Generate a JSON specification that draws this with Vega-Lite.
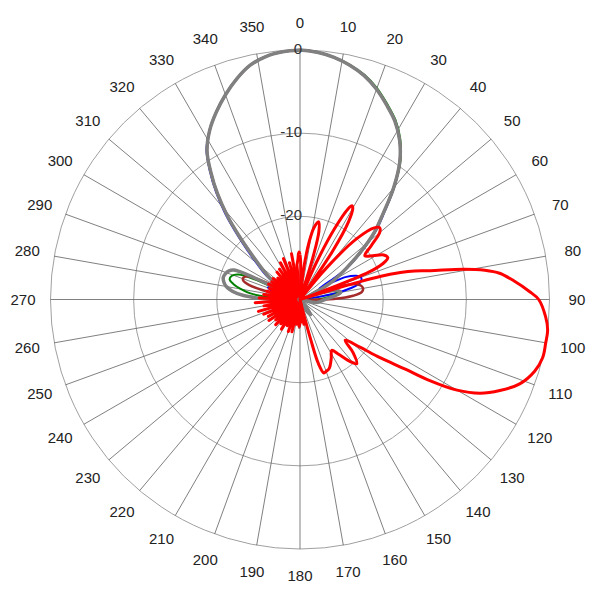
{
"$schema": "https://vega.github.io/schema/vega-lite/v6.json",
"width": 600, "height": 600, "padding": 0, "autosize": {"type": "none"},
"config": {"view": {"stroke": null}},
"datasets": {
"rings": [{"lvl": 10}, {"lvl": 20}, {"lvl": 30}],
"ringlabels": [{"lvl": 30, "t": "0"}, {"lvl": 20, "t": "-10"}, {"lvl": 10, "t": "-20"}],
"spokes": [{"a":0},{"a":10},{"a":20},{"a":30},{"a":40},{"a":50},{"a":60},{"a":70},{"a":80},{"a":90},{"a":100},{"a":110},{"a":120},{"a":130},{"a":140},{"a":150},{"a":160},{"a":170},{"a":180},{"a":190},{"a":200},{"a":210},{"a":220},{"a":230},{"a":240},{"a":250},{"a":260},{"a":270},{"a":280},{"a":290},{"a":300},{"a":310},{"a":320},{"a":330},{"a":340},{"a":350}],
"traces": [
{"s":"blue","a":0,"d":0},{"s":"blue","a":4,"d":-0.2},{"s":"blue","a":8,"d":-0.6},{"s":"blue","a":12,"d":-1.2},{"s":"blue","a":16,"d":-2},{"s":"blue","a":20,"d":-3.1},{"s":"blue","a":24,"d":-4.4},{"s":"blue","a":28,"d":-5.7},{"s":"blue","a":32,"d":-7.4},{"s":"blue","a":36,"d":-9.6},{"s":"blue","a":40,"d":-12.4},{"s":"blue","a":44,"d":-15.4},{"s":"blue","a":48,"d":-17.8},{"s":"blue","a":52,"d":-20.6},{"s":"blue","a":56,"d":-23.1},{"s":"blue","a":58,"d":-25.3},{"s":"blue","a":60,"d":-27.3},{"s":"blue","a":62,"d":-25.5},{"s":"blue","a":64,"d":-23.8},{"s":"blue","a":67,"d":-22.7},{"s":"blue","a":70,"d":-22.2},{"s":"blue","a":73,"d":-22.3},{"s":"blue","a":76,"d":-23},{"s":"blue","a":79,"d":-24.8},{"s":"blue","a":82,"d":-27.5},{"s":"blue","a":85,"d":-30},{"s":"blue","a":282,"d":-30},{"s":"blue","a":285,"d":-28},{"s":"blue","a":288,"d":-26.3},{"s":"blue","a":291,"d":-25.9},{"s":"blue","a":294,"d":-26.5},{"s":"blue","a":296,"d":-28.5},{"s":"blue","a":298,"d":-29.5},{"s":"blue","a":300,"d":-27.3},{"s":"blue","a":303,"d":-26.2},{"s":"blue","a":306,"d":-24.8},{"s":"blue","a":310,"d":-23.2},{"s":"blue","a":313,"d":-21.4},{"s":"blue","a":316,"d":-19.1},{"s":"blue","a":319,"d":-16.3},{"s":"blue","a":322,"d":-13.6},{"s":"blue","a":325,"d":-11.1},{"s":"blue","a":328,"d":-8.8},{"s":"blue","a":332,"d":-6.9},{"s":"blue","a":336,"d":-5.3},{"s":"blue","a":340,"d":-3.8},{"s":"blue","a":344,"d":-2.4},{"s":"blue","a":348,"d":-1.2},{"s":"blue","a":352,"d":-0.5},{"s":"blue","a":356,"d":-0.15},{"s":"blue","a":360,"d":0},
{"s":"green","a":0,"d":0},{"s":"green","a":4,"d":-0.17},{"s":"green","a":8,"d":-0.58},{"s":"green","a":12,"d":-1.15},{"s":"green","a":16,"d":-1.9},{"s":"green","a":20,"d":-2.95},{"s":"green","a":24,"d":-4.25},{"s":"green","a":28,"d":-5.55},{"s":"green","a":32,"d":-7.25},{"s":"green","a":36,"d":-9.45},{"s":"green","a":40,"d":-12.4},{"s":"green","a":44,"d":-15.5},{"s":"green","a":48,"d":-17.95},{"s":"green","a":52,"d":-20.8},{"s":"green","a":56,"d":-23.3},{"s":"green","a":60,"d":-25.2},{"s":"green","a":64,"d":-27.3},{"s":"green","a":67,"d":-28.6},{"s":"green","a":70,"d":-28.8},{"s":"green","a":73,"d":-27},{"s":"green","a":76,"d":-25.8},{"s":"green","a":80,"d":-25.4},{"s":"green","a":85,"d":-26.5},{"s":"green","a":90,"d":-28},{"s":"green","a":95,"d":-30},{"s":"green","a":268,"d":-30},{"s":"green","a":272,"d":-29},{"s":"green","a":274,"d":-26.5},{"s":"green","a":277,"d":-24},{"s":"green","a":280,"d":-22.8},{"s":"green","a":283,"d":-21.8},{"s":"green","a":286,"d":-21.2},{"s":"green","a":289,"d":-21.3},{"s":"green","a":292,"d":-22},{"s":"green","a":294,"d":-24},{"s":"green","a":296,"d":-29},{"s":"green","a":300,"d":-27.5},{"s":"green","a":303,"d":-26.5},{"s":"green","a":306,"d":-25.3},{"s":"green","a":310,"d":-23.7},{"s":"green","a":313,"d":-22},{"s":"green","a":316,"d":-19.6},{"s":"green","a":319,"d":-16.7},{"s":"green","a":322,"d":-13.9},{"s":"green","a":325,"d":-11.3},{"s":"green","a":328,"d":-8.9},{"s":"green","a":332,"d":-6.9},{"s":"green","a":336,"d":-5.3},{"s":"green","a":340,"d":-3.8},{"s":"green","a":344,"d":-2.4},{"s":"green","a":348,"d":-1.2},{"s":"green","a":352,"d":-0.5},{"s":"green","a":356,"d":-0.15},{"s":"green","a":360,"d":0},
{"s":"brown","a":0,"d":0},{"s":"brown","a":4,"d":-0.2},{"s":"brown","a":8,"d":-0.6},{"s":"brown","a":12,"d":-1.2},{"s":"brown","a":16,"d":-2},{"s":"brown","a":20,"d":-3.1},{"s":"brown","a":24,"d":-4.4},{"s":"brown","a":28,"d":-5.7},{"s":"brown","a":32,"d":-7.4},{"s":"brown","a":36,"d":-9.6},{"s":"brown","a":40,"d":-12.5},{"s":"brown","a":44,"d":-15.6},{"s":"brown","a":48,"d":-18},{"s":"brown","a":52,"d":-20.8},{"s":"brown","a":56,"d":-23.3},{"s":"brown","a":60,"d":-25.3},{"s":"brown","a":64,"d":-27.3},{"s":"brown","a":66,"d":-28.5},{"s":"brown","a":69,"d":-27.5},{"s":"brown","a":71,"d":-25.5},{"s":"brown","a":74,"d":-23.2},{"s":"brown","a":77,"d":-22.5},{"s":"brown","a":80,"d":-22.3},{"s":"brown","a":83,"d":-22.5},{"s":"brown","a":86,"d":-23.6},{"s":"brown","a":88,"d":-25},{"s":"brown","a":90,"d":-27},{"s":"brown","a":92,"d":-30},{"s":"brown","a":176,"d":-30},{"s":"brown","a":180,"d":-27},{"s":"brown","a":182,"d":-26.6},{"s":"brown","a":184,"d":-30},{"s":"brown","a":278,"d":-30},{"s":"brown","a":282,"d":-28},{"s":"brown","a":284,"d":-25.5},{"s":"brown","a":286,"d":-23.6},{"s":"brown","a":288.5,"d":-22.8},{"s":"brown","a":291,"d":-22.7},{"s":"brown","a":294,"d":-23.1},{"s":"brown","a":296,"d":-24.8},{"s":"brown","a":298,"d":-27},{"s":"brown","a":300,"d":-27.6},{"s":"brown","a":303,"d":-26.5},{"s":"brown","a":306,"d":-25.3},{"s":"brown","a":310,"d":-23.7},{"s":"brown","a":313,"d":-22},{"s":"brown","a":316,"d":-19.6},{"s":"brown","a":319,"d":-16.7},{"s":"brown","a":322,"d":-13.9},{"s":"brown","a":325,"d":-11.3},{"s":"brown","a":328,"d":-8.9},{"s":"brown","a":332,"d":-6.9},{"s":"brown","a":336,"d":-5.3},{"s":"brown","a":340,"d":-3.8},{"s":"brown","a":344,"d":-2.4},{"s":"brown","a":348,"d":-1.2},{"s":"brown","a":352,"d":-0.5},{"s":"brown","a":356,"d":-0.15},{"s":"brown","a":360,"d":0},
{"s":"gray","a":0,"d":0},{"s":"gray","a":4,"d":-0.2},{"s":"gray","a":8,"d":-0.6},{"s":"gray","a":12,"d":-1.2},{"s":"gray","a":16,"d":-2},{"s":"gray","a":20,"d":-3.1},{"s":"gray","a":24,"d":-4.4},{"s":"gray","a":28,"d":-5.7},{"s":"gray","a":32,"d":-7.4},{"s":"gray","a":36,"d":-9.6},{"s":"gray","a":40,"d":-12.5},{"s":"gray","a":44,"d":-15.6},{"s":"gray","a":48,"d":-18},{"s":"gray","a":52,"d":-20.8},{"s":"gray","a":56,"d":-23.3},{"s":"gray","a":60,"d":-25.2},{"s":"gray","a":64,"d":-27.3},{"s":"gray","a":67,"d":-28.6},{"s":"gray","a":70,"d":-28.8},{"s":"gray","a":73,"d":-27},{"s":"gray","a":76,"d":-25.5},{"s":"gray","a":80,"d":-25},{"s":"gray","a":85,"d":-26},{"s":"gray","a":90,"d":-27},{"s":"gray","a":95,"d":-27.5},{"s":"gray","a":100,"d":-28},{"s":"gray","a":105,"d":-30},{"s":"gray","a":135,"d":-30},{"s":"gray","a":140,"d":-28.8},{"s":"gray","a":145,"d":-27.8},{"s":"gray","a":150,"d":-28.5},{"s":"gray","a":155,"d":-30},{"s":"gray","a":265,"d":-30},{"s":"gray","a":270,"d":-27},{"s":"gray","a":272,"d":-25},{"s":"gray","a":274,"d":-23.2},{"s":"gray","a":277,"d":-21.8},{"s":"gray","a":280,"d":-21},{"s":"gray","a":283,"d":-20.6},{"s":"gray","a":286,"d":-20.4},{"s":"gray","a":289,"d":-20.5},{"s":"gray","a":292,"d":-20.8},{"s":"gray","a":294,"d":-21.3},{"s":"gray","a":295.5,"d":-24},{"s":"gray","a":297,"d":-29.5},{"s":"gray","a":300,"d":-27.5},{"s":"gray","a":303,"d":-26.5},{"s":"gray","a":306,"d":-25.3},{"s":"gray","a":310,"d":-23.7},{"s":"gray","a":313,"d":-22},{"s":"gray","a":316,"d":-19.6},{"s":"gray","a":319,"d":-16.7},{"s":"gray","a":322,"d":-13.9},{"s":"gray","a":325,"d":-11.3},{"s":"gray","a":328,"d":-8.9},{"s":"gray","a":332,"d":-6.9},{"s":"gray","a":336,"d":-5.3},{"s":"gray","a":340,"d":-3.8},{"s":"gray","a":344,"d":-2.4},{"s":"gray","a":348,"d":-1.2},{"s":"gray","a":352,"d":-0.5},{"s":"gray","a":356,"d":-0.15},{"s":"gray","a":360,"d":0},
{"s":"red","a":0,"d":-24.6},{"s":"red","a":1,"d":-25.5},{"s":"red","a":2,"d":-28},{"s":"red","a":3,"d":-30},{"s":"red","a":5,"d":-30},{"s":"red","a":7,"d":-26},{"s":"red","a":9,"d":-23},{"s":"red","a":11,"d":-21.2},{"s":"red","a":13.5,"d":-20.4},{"s":"red","a":15.5,"d":-21.5},{"s":"red","a":17,"d":-24.5},{"s":"red","a":19,"d":-30},{"s":"red","a":22,"d":-30},{"s":"red","a":24,"d":-25},{"s":"red","a":26,"d":-20.5},{"s":"red","a":28,"d":-17.6},{"s":"red","a":29,"d":-17.1},{"s":"red","a":30,"d":-17.3},{"s":"red","a":32,"d":-19},{"s":"red","a":34,"d":-23},{"s":"red","a":36,"d":-30},{"s":"red","a":38,"d":-30},{"s":"red","a":40,"d":-25},{"s":"red","a":43,"d":-20},{"s":"red","a":46,"d":-17.6},{"s":"red","a":48,"d":-17.1},{"s":"red","a":50,"d":-17.5},{"s":"red","a":53,"d":-19.3},{"s":"red","a":56,"d":-20.6},{"s":"red","a":59,"d":-19.8},{"s":"red","a":62,"d":-18.6},{"s":"red","a":64.5,"d":-18.3},{"s":"red","a":66,"d":-18.8},{"s":"red","a":68,"d":-20.5},{"s":"red","a":69,"d":-23.5},{"s":"red","a":70,"d":-27.5},{"s":"red","a":71,"d":-30},{"s":"red","a":72,"d":-30},{"s":"red","a":73,"d":-26},{"s":"red","a":74,"d":-20},{"s":"red","a":75,"d":-17.5},{"s":"red","a":76,"d":-15.8},{"s":"red","a":77.5,"d":-14},{"s":"red","a":79.5,"d":-10},{"s":"red","a":81,"d":-7.5},{"s":"red","a":82.5,"d":-5.8},{"s":"red","a":85,"d":-4.2},{"s":"red","a":88,"d":-2.4},{"s":"red","a":90,"d":-1.3},{"s":"red","a":94,"d":-0.4},{"s":"red","a":97,"d":0},{"s":"red","a":100,"d":0},{"s":"red","a":103.5,"d":0},{"s":"red","a":107,"d":-0.5},{"s":"red","a":111,"d":-1.7},{"s":"red","a":114.5,"d":-3.6},{"s":"red","a":117.5,"d":-5.6},{"s":"red","a":120,"d":-8.2},{"s":"red","a":122,"d":-11.6},{"s":"red","a":123.5,"d":-14.9},{"s":"red","a":126,"d":-18.1},{"s":"red","a":128.5,"d":-20.8},{"s":"red","a":132,"d":-22.7},{"s":"red","a":135,"d":-21},{"s":"red","a":138.5,"d":-19.7},{"s":"red","a":141,"d":-20.4},{"s":"red","a":145,"d":-22},{"s":"red","a":148,"d":-22.8},{"s":"red","a":152,"d":-22},{"s":"red","a":157,"d":-21},{"s":"red","a":160,"d":-20.8},{"s":"red","a":162,"d":-20.7},{"s":"red","a":164,"d":-22},{"s":"red","a":165,"d":-25},{"s":"red","a":166,"d":-28.5},{"s":"red","a":167,"d":-30},{"s":"red","a":169,"d":-28.5},{"s":"red","a":171,"d":-27},{"s":"red","a":173,"d":-29.5},{"s":"red","a":176,"d":-27.3},{"s":"red","a":179,"d":-29.5},{"s":"red","a":182,"d":-26.8},{"s":"red","a":185,"d":-29.5},{"s":"red","a":188,"d":-27},{"s":"red","a":191,"d":-29.5},{"s":"red","a":194,"d":-26},{"s":"red","a":197,"d":-29.5},{"s":"red","a":200,"d":-25.9},{"s":"red","a":203,"d":-29.5},{"s":"red","a":206,"d":-26.5},{"s":"red","a":209,"d":-29.5},{"s":"red","a":212,"d":-25.8},{"s":"red","a":215,"d":-29.5},{"s":"red","a":218,"d":-26.3},{"s":"red","a":221,"d":-29.5},{"s":"red","a":224,"d":-25.8},{"s":"red","a":227,"d":-29.5},{"s":"red","a":230,"d":-26.2},{"s":"red","a":233,"d":-29.5},{"s":"red","a":236,"d":-25.5},{"s":"red","a":239,"d":-29.5},{"s":"red","a":242,"d":-25.7},{"s":"red","a":245,"d":-29.5},{"s":"red","a":248,"d":-25.3},{"s":"red","a":251,"d":-29.5},{"s":"red","a":254,"d":-24.8},{"s":"red","a":257,"d":-29.5},{"s":"red","a":260,"d":-25.6},{"s":"red","a":263,"d":-29.5},{"s":"red","a":266,"d":-24.6},{"s":"red","a":269,"d":-29.5},{"s":"red","a":272,"d":-25.1},{"s":"red","a":275,"d":-29.5},{"s":"red","a":278,"d":-25.6},{"s":"red","a":281,"d":-29.5},{"s":"red","a":284,"d":-25.9},{"s":"red","a":287,"d":-29.5},{"s":"red","a":290,"d":-26.1},{"s":"red","a":293,"d":-29.5},{"s":"red","a":296,"d":-25.8},{"s":"red","a":299,"d":-29.5},{"s":"red","a":302,"d":-26},{"s":"red","a":305,"d":-29.5},{"s":"red","a":308,"d":-25.9},{"s":"red","a":311,"d":-29.5},{"s":"red","a":314,"d":-26.3},{"s":"red","a":317,"d":-29.5},{"s":"red","a":320,"d":-25.7},{"s":"red","a":323,"d":-29.5},{"s":"red","a":326,"d":-25.6},{"s":"red","a":329,"d":-29.5},{"s":"red","a":332,"d":-25},{"s":"red","a":335,"d":-29.5},{"s":"red","a":338,"d":-24.7},{"s":"red","a":341,"d":-29.5},{"s":"red","a":344,"d":-25.4},{"s":"red","a":347,"d":-29.5},{"s":"red","a":349.5,"d":-24.4},{"s":"red","a":352,"d":-29.5},{"s":"red","a":355,"d":-25.8},{"s":"red","a":357,"d":-25.2},{"s":"red","a":358,"d":-24.5},{"s":"red","a":359,"d":-24.3},{"s":"red","a":360,"d":-24.6}
]
},
"layer": [
{
"data": {"name": "rings"},
"transform": [{"calculate": "0", "as": "cx"}],
"mark": {"type": "point", "shape": "circle", "filled": false, "stroke": "#a0a0a0", "strokeWidth": 1, "opacity": 1},
"encoding": {
"x": {"field": "cx", "type": "quantitative", "scale": {"domain": [-36.07, 36.07], "nice": false, "zero": false}, "axis": null},
"y": {"field": "cx", "type": "quantitative", "scale": {"domain": [-36.13, 36.01], "nice": false, "zero": false}, "axis": null},
"size": {"field": "lvl", "type": "quantitative", "scale": {"type": "pow", "exponent": 2, "domain": [0, 30], "range": [0, 249001]}, "legend": null}
}
},
{
"data": {"name": "spokes"},
"transform": [
{"calculate": "0", "as": "cx"},
{"calculate": "30*sin(datum.a*PI/180)", "as": "x2"},
{"calculate": "30*cos(datum.a*PI/180)", "as": "y2"}
],
"mark": {"type": "rule", "stroke": "#606060", "strokeWidth": 0.8},
"encoding": {
"x": {"field": "cx", "type": "quantitative"},
"y": {"field": "cx", "type": "quantitative"},
"x2": {"field": "x2"},
"y2": {"field": "y2"}
}
},
{
"data": {"name": "spokes"},
"transform": [
{"calculate": "33.3*sin(datum.a*PI/180)", "as": "lx"},
{"calculate": "33.3*cos(datum.a*PI/180)", "as": "ly"}
],
"mark": {"type": "text", "font": "Liberation Sans", "fontSize": 15, "fill": "#222222", "align": "center", "baseline": "middle"},
"encoding": {
"x": {"field": "lx", "type": "quantitative"},
"y": {"field": "ly", "type": "quantitative"},
"text": {"field": "a", "type": "nominal"}
}
},
{
"data": {"name": "traces"},
"transform": [
{"filter": "datum.s == 'blue'"},
{"calculate": "max(datum.d + 30, 0)", "as": "r"},
{"calculate": "datum.r*sin(datum.a*PI/180)", "as": "x"},
{"calculate": "datum.r*cos(datum.a*PI/180)", "as": "y"}
],
"mark": {"type": "line", "stroke": "#0000ff", "strokeWidth": 2, "interpolate": "catmull-rom", "strokeJoin": "round"},
"encoding": {"x": {"field": "x", "type": "quantitative"}, "y": {"field": "y", "type": "quantitative"}, "order": {"field": "a", "type": "quantitative"}}
},
{
"data": {"name": "traces"},
"transform": [
{"filter": "datum.s == 'green'"},
{"calculate": "max(datum.d + 30, 0)", "as": "r"},
{"calculate": "datum.r*sin(datum.a*PI/180)", "as": "x"},
{"calculate": "datum.r*cos(datum.a*PI/180)", "as": "y"}
],
"mark": {"type": "line", "stroke": "#008000", "strokeWidth": 2, "interpolate": "catmull-rom", "strokeJoin": "round"},
"encoding": {"x": {"field": "x", "type": "quantitative"}, "y": {"field": "y", "type": "quantitative"}, "order": {"field": "a", "type": "quantitative"}}
},
{
"data": {"name": "traces"},
"transform": [
{"filter": "datum.s == 'brown'"},
{"calculate": "max(datum.d + 30, 0)", "as": "r"},
{"calculate": "datum.r*sin(datum.a*PI/180)", "as": "x"},
{"calculate": "datum.r*cos(datum.a*PI/180)", "as": "y"}
],
"mark": {"type": "line", "stroke": "#a52a2a", "strokeWidth": 2.5, "interpolate": "catmull-rom", "strokeJoin": "round"},
"encoding": {"x": {"field": "x", "type": "quantitative"}, "y": {"field": "y", "type": "quantitative"}, "order": {"field": "a", "type": "quantitative"}}
},
{
"data": {"name": "traces"},
"transform": [
{"filter": "datum.s == 'gray'"},
{"calculate": "max(datum.d + 30, 0)", "as": "r"},
{"calculate": "datum.r*sin(datum.a*PI/180)", "as": "x"},
{"calculate": "datum.r*cos(datum.a*PI/180)", "as": "y"}
],
"mark": {"type": "line", "stroke": "#808080", "strokeWidth": 3.5, "interpolate": "catmull-rom", "strokeJoin": "round"},
"encoding": {"x": {"field": "x", "type": "quantitative"}, "y": {"field": "y", "type": "quantitative"}, "order": {"field": "a", "type": "quantitative"}}
},
{
"data": {"name": "traces"},
"transform": [
{"filter": "datum.s == 'red' && datum.a <= 167"},
{"calculate": "max(datum.d + 30, 0)", "as": "r"},
{"calculate": "datum.r*sin(datum.a*PI/180)", "as": "x"},
{"calculate": "datum.r*cos(datum.a*PI/180)", "as": "y"}
],
"mark": {"type": "line", "stroke": "#ff0000", "strokeWidth": 3, "interpolate": "catmull-rom", "strokeJoin": "round"},
"encoding": {"x": {"field": "x", "type": "quantitative"}, "y": {"field": "y", "type": "quantitative"}, "order": {"field": "a", "type": "quantitative"}}
},
{
"data": {"name": "traces"},
"transform": [
{"filter": "datum.s == 'red' && datum.a >= 167"},
{"calculate": "max(datum.d + 30, 0)", "as": "r"},
{"calculate": "datum.r*sin(datum.a*PI/180)", "as": "x"},
{"calculate": "datum.r*cos(datum.a*PI/180)", "as": "y"}
],
"mark": {"type": "line", "stroke": "#ff0000", "strokeWidth": 3, "interpolate": "linear", "strokeJoin": "round"},
"encoding": {"x": {"field": "x", "type": "quantitative"}, "y": {"field": "y", "type": "quantitative"}, "order": {"field": "a", "type": "quantitative"}}
},
{
"data": {"name": "ringlabels"},
"transform": [{"calculate": "0", "as": "cx"}],
"mark": {"type": "text", "font": "Liberation Sans", "fontSize": 15, "fill": "#333333", "align": "right", "baseline": "middle", "dx": 2, "dy": -1},
"encoding": {
"x": {"field": "cx", "type": "quantitative"},
"y": {"field": "lvl", "type": "quantitative"},
"text": {"field": "t", "type": "nominal"}
}
}
]
}
